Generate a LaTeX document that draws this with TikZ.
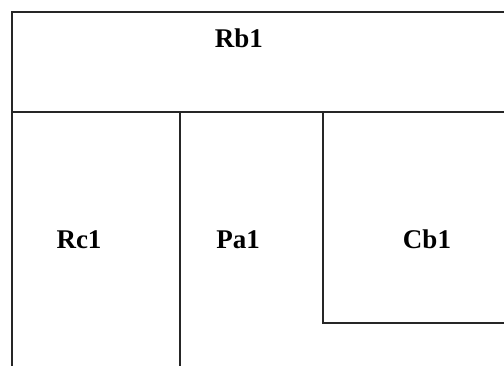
\documentclass[tikz,border=0pt]{standalone}
\usepackage{fontspec}
\setmainfont{Liberation Serif}
\begin{document}
\begin{tikzpicture}[x=1pt,y=-1pt,
  wall/.style={draw=black!85,line width=1.5pt},
  lbl/.style={anchor=base,inner sep=0pt,font=\fontsize{27}{32}\selectfont\bfseries}]
\useasboundingbox (0,0) rectangle (504,366);
\draw[wall] (504,12) -- (12,12) -- (12,366);
\draw[wall] (12,112) -- (504,112);
\draw[wall] (180,112) -- (180,366);
\draw[wall] (323,112) -- (323,323) -- (504,323);
\node[lbl] (rb1) at (239,48) {Rb1};
\node[lbl] (rc1) at (79,249) {Rc1};
\node[lbl] (pa1) at (238,249) {Pa1};
\node[lbl] (cb1) at (427,249) {Cb1};
\end{tikzpicture}
\end{document}
